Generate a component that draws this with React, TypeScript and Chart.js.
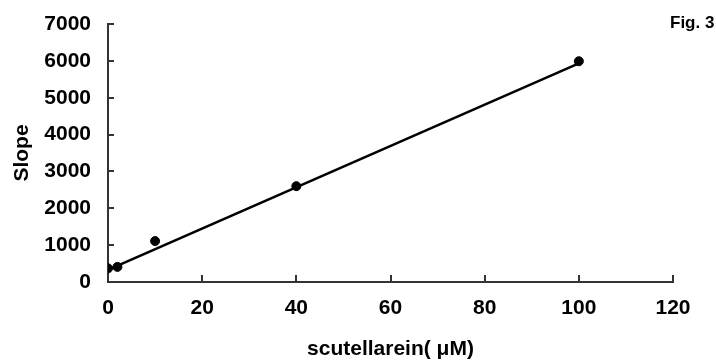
import React, { useEffect, useRef } from "react";
import { Chart, registerables } from "chart.js";

Chart.register(...registerables);

const concentrations = [0, 2, 10, 40, 100];
const slopes = [370, 410, 1110, 2600, 5990];
const fitX = [0, 100];
const fitY = [330, 5930];
const xTicks = [0, 20, 40, 60, 80, 100, 120];
const yTicks = [0, 1000, 2000, 3000, 4000, 5000, 6000, 7000];
const xTitle = "scutellarein( μM)";
const yTitle = "Slope";
const figLabel = "Fig. 3";

const FONT = "'Liberation Sans', Arial, sans-serif";

const insideTicks = {
  id: "insideTicks",
  afterDraw(chart: any) {
    const ctx = chart.ctx;
    const { x, y } = chart.scales;
    const area = chart.chartArea;
    ctx.save();
    ctx.strokeStyle = "#333";
    ctx.lineWidth = 2;
    yTicks.forEach((v) => {
      const py = Math.round(y.getPixelForValue(v));
      ctx.beginPath();
      ctx.moveTo(area.left, py);
      ctx.lineTo(area.left + 6, py);
      ctx.stroke();
    });
    xTicks.forEach((v) => {
      const px = Math.round(x.getPixelForValue(v));
      ctx.beginPath();
      ctx.moveTo(px, area.bottom);
      ctx.lineTo(px, area.bottom - 7);
      ctx.stroke();
    });
    ctx.fillStyle = "#000";
    ctx.font = `bold 17px ${FONT}`;
    ctx.textAlign = "left";
    ctx.textBaseline = "middle";
    ctx.fillText(figLabel, 670, 23);
    ctx.restore();
  },
};

export default function App() {
  const ref = useRef<HTMLCanvasElement>(null);
  useEffect(() => {
    if (!ref.current) return;
    const chart = new Chart(ref.current, {
      type: "scatter",
      data: {
        datasets: [
          {
            data: fitX.map((v, i) => ({ x: v, y: fitY[i] })),
            showLine: true,
            borderColor: "#000",
            borderWidth: 2.5,
            pointRadius: 0,
            fill: false,
          },
          {
            data: concentrations.map((v, i) => ({ x: v, y: slopes[i] })),
            backgroundColor: "#000",
            borderColor: "#000",
            pointRadius: 4.5,
            showLine: false,
          },
        ],
      },
      options: {
        animation: false,
        responsive: false,
        maintainAspectRatio: false,
        layout: { padding: { top: 24, right: 43, left: 0, bottom: 0 } },
        plugins: { legend: { display: false }, tooltip: { enabled: false } },
        scales: {
          x: {
            type: "linear",
            min: 0,
            max: 120,
            afterBuildTicks: (s: any) => {
              s.ticks = xTicks.map((v) => ({ value: v }));
            },
            afterFit: (s: any) => {
              s.height = 80;
            },
            grid: { drawOnChartArea: false, drawTicks: false },
            border: { display: true, color: "#333", width: 2 },
            ticks: {
              color: "#000",
              padding: 14,
              maxRotation: 0,
              callback: (v: any) => String(v),
              font: { family: FONT, size: 21, weight: "bold" },
            },
            title: {
              display: true,
              text: xTitle,
              color: "#000",
              padding: { top: 0, bottom: 0 },
              font: { family: FONT, size: 21, weight: "bold" },
            },
          },
          y: {
            type: "linear",
            min: 0,
            max: 7000,
            afterBuildTicks: (s: any) => {
              s.ticks = yTicks.map((v) => ({ value: v }));
            },
            afterFit: (s: any) => {
              s.width = 108;
            },
            grid: {
              drawOnChartArea: false,
              drawTicks: true,
              tickLength: 12,
              tickColor: "rgba(0,0,0,0)",
            },
            border: { display: true, color: "#333", width: 2 },
            ticks: {
              color: "#000",
              padding: 5,
              callback: (v: any) => String(v),
              font: { family: FONT, size: 21, weight: "bold" },
            },
            title: {
              display: true,
              text: yTitle,
              color: "#000",
              padding: { top: 10, bottom: 0 },
              font: { family: FONT, size: 21, weight: "bold" },
            },
          },
        },
      },
      plugins: [insideTicks],
    });
    return () => chart.destroy();
  }, []);
  return (
    <div style={{ position: "fixed", left: 0, top: 0, width: 716, height: 362, background: "#fff" }}>
      <canvas ref={ref} width={716} height={362} style={{ width: 716, height: 362 }} />
    </div>
  );
}
